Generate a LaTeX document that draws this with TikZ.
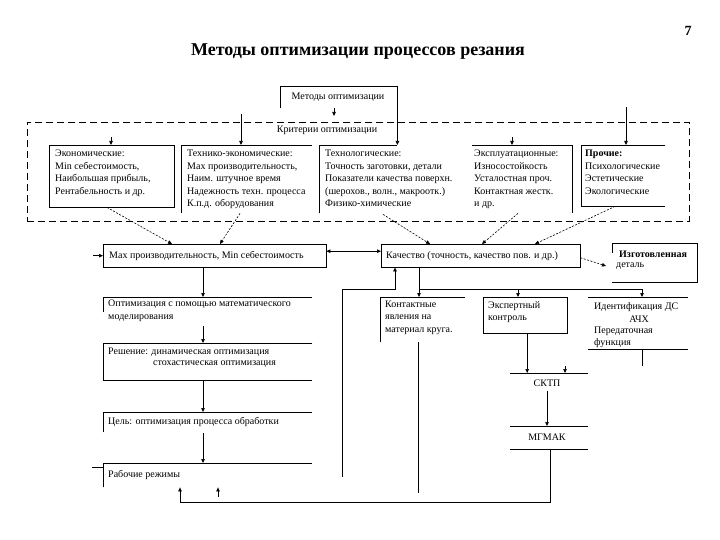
\documentclass[tikz,border=0pt]{standalone}
\usepackage{fontspec}
\setmainfont{Liberation Serif}
\usetikzlibrary{arrows.meta,calc}
\begin{document}
\begin{tikzpicture}[x=1pt,y=-1pt,
  ln/.style={line width=0.7pt},
  arr/.style={ln,-{Triangle[length=4pt,width=3.5pt]}},
  dblarr/.style={ln,{Triangle[length=4pt,width=3.5pt]}-{Triangle[length=4pt,width=3.5pt]}},
  dotarr/.style={line width=0.6pt,dash pattern=on 2pt off 1.5pt,-{Triangle[length=4pt,width=3.5pt]}},
  area/.style={draw=none,inner sep=0pt,anchor=north west},
  txt/.style={inner sep=0pt,anchor=north west,align=left,font=\fontsize{10}{12.5}\selectfont},
  lbl/.style={inner sep=0pt,font=\fontsize{10}{12}\selectfont}]
\useasboundingbox (0,0) rectangle (720,540);
\fill[white] (0,0) rectangle (720,540);

% title
\node[font=\bfseries\fontsize{18}{21}\selectfont] (title) at (358,52) {Методы оптимизации процессов резания};
\node[font=\bfseries\fontsize{14}{16}\selectfont] (pg) at (688,31) {7};

% methods
\node[area,minimum width=117pt,minimum height=22pt] (meth) at (280,86) {};
\node[lbl] (metht) at (338,97) {Методы оптимизации};
\draw[ln] (meth.south west) -- (meth.north west) -- (meth.north east);
\coordinate (methd) at (334,108);
\draw[arr] (methd) -- ++(0,8);

% criteria frame
\node[area,minimum width=662pt,minimum height=99pt,draw,line width=0.7pt,dash pattern=on 7pt off 4pt] (frame) at (27,122) {};
\node[lbl] (crit) at (327,130) {Критерии оптимизации};

% criteria boxes
\node[area,minimum width=125pt,minimum height=62pt] (eco) at (49,145) {};
\draw[ln] (eco.north west) rectangle (eco.south east);
\node[txt] (ecot) at (55,150) {Экономические:\\Min себестоимость,\\Наибольшая прибыль,\\Рентабельность и др.};

\node[area,minimum width=131pt,minimum height=68pt] (tec) at (181,145) {};
\draw[ln] (tec.south west) -- (tec.north west) -- (tec.north east);
\node[txt] (tect) at (187,150) {Технико-экономические:\\Max производительность,\\Наим. штучное время\\Надежность техн. процесса\\К.п.д. оборудования};

\node[area,minimum width=78pt,minimum height=68pt] (tgy) at (319,145) {};
\draw[ln] (tgy.south west) -- (tgy.north west) -- (tgy.north east);
\node[txt] (tgyt) at (325,150) {Технологические:\\Точность заготовки, детали\\Показатели качества поверхн.\\(шерохов., волн., макроотк.)\\Физико-химические};

\node[area,minimum width=100pt,minimum height=68pt] (exp) at (472,145) {};
\draw[ln] (exp.north west) -- (exp.north east) -- (exp.south east);
\node[txt] (expt) at (474,150) {Эксплуатационные:\\Износостойкость\\Усталостная проч.\\Контактная жестк.\\и др.};

\node[area,minimum width=84pt,minimum height=61pt] (oth) at (581,145) {};
\draw[ln] (oth.north east) -- (oth.north west) -- (oth.south west) -- (oth.south east);
\node[txt] (otht) at (585,150) {\textbf{Прочие:}\\Психологические\\Эстетические\\Экологические};

% arrows into criteria boxes
\coordinate (c1) at (241,114);
\draw[arr] (c1) -- (c1 |- tec.north);
\draw[arr] (meth.north east) -- (meth.north east |- tgy.north);
\coordinate (c2) at (626,107);
\draw[arr] (c2) -- (c2 |- oth.north);
\coordinate (c3) at (111,137);
\draw[arr] (c3) -- (c3 |- eco.north);
\coordinate (c4) at (512,137);
\draw[arr] (c4) -- (c4 |- exp.north);

% middle row
\node[area,minimum width=223pt,minimum height=23pt] (mid1) at (103,244) {};
\draw[ln] (mid1.north west) rectangle (mid1.south east);
\node[lbl,anchor=west] (mid1t) at (109,256) {Max производительность, Min себестоимость};

\node[area,minimum width=199pt,minimum height=23pt] (qual) at (381,244) {};
\draw[ln] (qual.north west) rectangle (qual.south east);
\node[lbl,anchor=west] (qualt) at (386,256) {Качество (точность, качество пов. и др.)};

\draw[dblarr] ($(mid1.east)+(0,-4.5)$) -- ($(qual.west)+(0,-4.5)$);
\draw[arr] ($(mid1.west)+(-10,0)$) -- (mid1.west);

% dotted arrows
\draw[dotarr] ($(eco.south west)+(58,0)$) -- ($(mid1.north west)+(69,0)$);
\draw[dotarr] ($(tec.south west)+(59,0)$) -- ($(mid1.north west)+(117,0)$);
\draw[dotarr] ($(tgy.south west)+(64,1)$) -- ($(qual.north west)+(49,0)$);
\draw[dotarr] ($(exp.south west)+(46,0)$) -- ($(qual.north west)+(101,0)$);
\draw[dotarr] ($(oth.south west)+(34,0)$) -- ($(qual.north west)+(154,0)$);

% finished part
\node[area,minimum width=85pt,minimum height=39pt] (det) at (612,243) {};
\draw[ln] (det.north west) -- (det.north east) -- (det.south east) -- (det.south west);
\draw[ln] (det.north west) -- ++(0,10);
\node[lbl,anchor=west,font=\bfseries\fontsize{10}{12}\selectfont] (dett1) at (619,254) {Изготовленная};
\node[lbl,anchor=west] (dett2) at (616,266) {деталь};
\draw[dotarr] ($(qual.east)+(0,2)$) -- ($(dett2.west)+(-10,0)$);

% branches under quality
\coordinate (j1) at (419,289);
\coordinate (j2) at (518,289);
\coordinate (j3) at (642,289);
\draw[ln] ($(qual.south west)+(38,0)$) -- (j1) -- (j3);

\node[area,minimum width=85pt,minimum height=45pt] (cont) at (380,297) {};
\draw[ln] (cont.south west) -- (cont.north west) -- (cont.north east);
\node[txt] (contt) at (385,300.5) {Контактные\\явления на\\материал круга.};

\node[area,minimum width=84pt,minimum height=36pt] (ctrl) at (483,297) {};
\draw[ln] (ctrl.north west) rectangle (ctrl.south east);
\node[txt] (ctrlt) at (488,301) {Экспертный\\контроль};

\node[area,minimum width=100pt,minimum height=52pt] (ident) at (588,297) {};
\draw[ln] (ident.north west) -- (ident.north east);
\draw[ln] (ident.south west) -- (ident.south east);
\node[lbl,anchor=west] (idt1) at (594,307) {Идентификация ДС};
\node[lbl] (idt2) at (639,319) {АЧХ};
\node[lbl,anchor=west] (idt3) at (594,331) {Передаточная};
\node[lbl,anchor=west] (idt4) at (594,343) {функция};

\draw[arr] (j1) -- (j1 |- cont.north);
\draw[arr] (j2) -- (j2 |- ctrl.north);
\draw[arr] (j3) -- (j3 |- ident.north);

% feedback to quality
\coordinate (f1) at (342,477);
\coordinate (f2) at (342,289);
\coordinate (f3) at (395,289);
\draw[arr] (f1) -- (f2) -- (f3) -- (f3 |- qual.south);

\draw[ln] ($(cont.south west)+(38,0)$) -- ++(0,151);

% SKTP / MGMAK
\node[area,minimum width=78pt,minimum height=20pt] (sktp) at (510,373) {};
\draw[ln] (sktp.north west) -- (sktp.north east);
\node[lbl] (sktpt) at (547,383) {СКТП};
\coordinate (c6) at ($(ctrl.south)+(2,0)$);
\draw[arr] (c6) -- (c6 |- sktp.north);
\draw[ln] ($(ident.south west)+(54,0)$) -- ++(0,17);
\coordinate (c5) at (565,366);
\draw[arr] (c5) -- (c5 |- sktp.north);

\node[area,minimum width=78pt,minimum height=23pt] (mgmak) at (510,426) {};
\draw[ln] (mgmak.north west) -- (mgmak.north east);
\draw[ln] (mgmak.south west) -- (mgmak.south east);
\node[lbl] (mgmakt) at (547,437) {МГМАК};
\coordinate (c7) at ($(sktpt.south)+(0,4)$);
\draw[arr] (c7) -- (c7 |- mgmak.north);

% left column
\node[area,minimum width=209pt,minimum height=15pt] (opt) at (103,297) {};
\draw[ln] (opt.south west) -- (opt.north west) -- (opt.north east);
\node[txt] (optt) at (108,300) {Оптимизация с помощью математического\\моделирования};

\node[area,minimum width=209pt,minimum height=37pt] (sol) at (103,343) {};
\draw[ln] (sol.north east) -- (sol.north west) -- (sol.south west) -- (sol.south east);
\node[lbl,anchor=west] (solt1) at (108,352) {Решение: динамическая оптимизация};
\node[lbl,anchor=west] (solt2) at (153,364) {стохастическая оптимизация};

\node[area,minimum width=209pt,minimum height=20pt] (goal) at (103,412) {};
\draw[ln] (goal.south west) -- (goal.north west) -- (goal.north east);
\node[lbl,anchor=west] (goalt) at (108,422) {Цель: оптимизация процесса обработки};

\node[area,minimum width=209pt,minimum height=24pt] (work) at (103,463) {};
\draw[ln] (work.south west) -- (work.north west) -- (work.north east);
\node[lbl,anchor=west] (workt) at (108,475) {Рабочие режимы};
\draw[ln] ($(work.north west)+(-11,4)$) -- ($(work.north west)+(0,4)$);

\draw[arr] ($(mid1.south west)+(100,0)$) -- ($(opt.north west)+(100,0)$);
\draw[arr] ($(opt.north west)+(100,29)$) -- ($(sol.north west)+(100,0)$);
\draw[arr] ($(sol.south west)+(100,0)$) -- ($(goal.north west)+(100,0)$);
\draw[arr] ($(goal.south west)+(100,1)$) -- ($(work.north west)+(100,0)$);

% return from MGMAK to working modes
\draw[arr] ($(mgmak.south)+(1,0)$) |- ($(work.south west)+(77,15)$) -- ($(work.south west)+(77,0)$);
\draw[arr] ($(work.south west)+(115,10)$) -- ($(work.south west)+(115,0)$);

\end{tikzpicture}
\end{document}
